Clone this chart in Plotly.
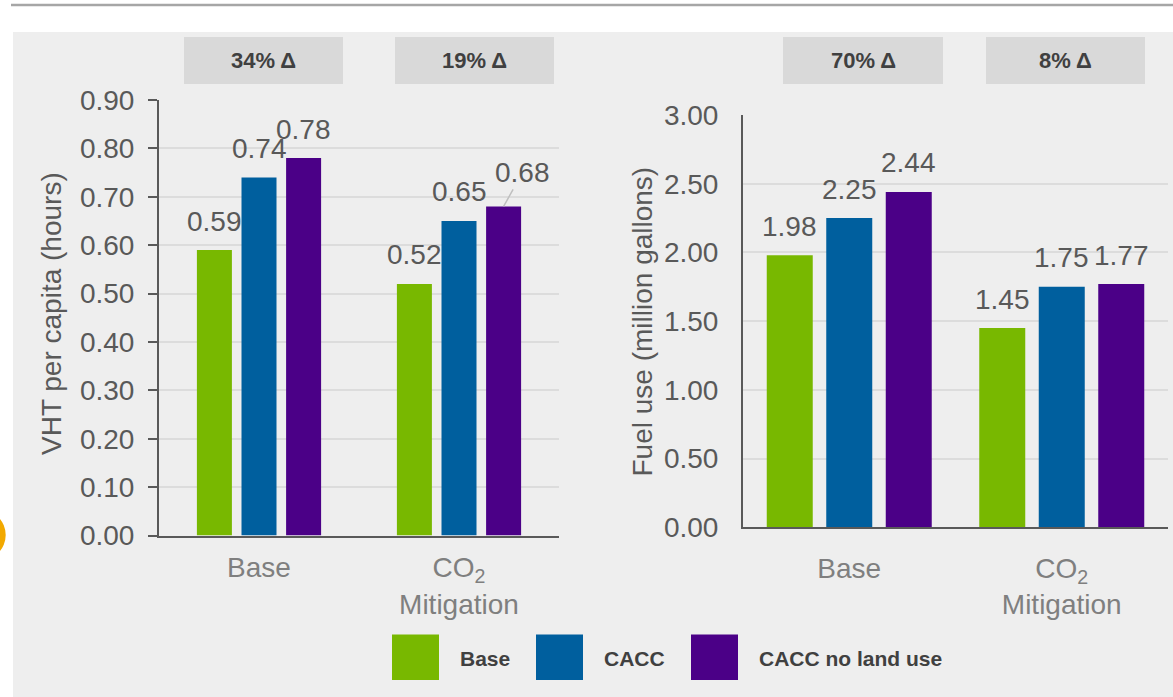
import plotly.graph_objects as go

# ---- data -------------------------------------------------------------
categories = ["Base", "CO<sub>2</sub><br>Mitigation"]
series_names = ["Base", "CACC", "CACC no land use"]

vht_base = [0.59, 0.52]
vht_cacc = [0.74, 0.65]
vht_cacc_no_land = [0.78, 0.68]

fuel_base = [1.98, 1.45]
fuel_cacc = [2.25, 1.75]
fuel_cacc_no_land = [2.44, 1.77]

vht_delta = ["34% Δ", "19% Δ"]
fuel_delta = ["70% Δ", "8% Δ"]

vht_ticks = [0.0, 0.1, 0.2, 0.3, 0.4, 0.5, 0.6, 0.7, 0.8, 0.9]
fuel_ticks = [0.0, 0.5, 1.0, 1.5, 2.0, 2.5, 3.0]

# ---- style ------------------------------------------------------------
W, H = 1173, 697
colors = ["#78B800", "#005F9E", "#4B0087"]
FONT = "Liberation Sans, Arial, sans-serif"
TXT = "#595959"
CAT_TXT = "#7F7F7F"
BOLD_TXT = "#404040"


def px(x):
    return x / W


def py(y):
    return 1 - y / H


fig = go.Figure()

vht_series = [vht_base, vht_cacc, vht_cacc_no_land]
fuel_series = [fuel_base, fuel_cacc, fuel_cacc_no_land]
cat_pos = list(range(len(categories)))

# bar geometry (position-axis units) for each panel
panels = [
    dict(series=vht_series, xa="x", ya="y", width=0.175, pitch=0.223),
    dict(series=fuel_series, xa="x2", ya="y2", width=0.2165, pitch=0.28),
]

annotations = []
for p in panels:
    for i, (name, vals) in enumerate(zip(series_names, p["series"])):
        center = (i - 1) * p["pitch"]
        fig.add_trace(go.Bar(
            x=cat_pos, y=vals, name=name,
            width=p["width"], offset=center - p["width"] / 2,
            marker=dict(color=colors[i], line=dict(width=0)),
            xaxis=p["xa"], yaxis=p["ya"], showlegend=False,
            hoverinfo="skip",
        ))
        for c, v in zip(cat_pos, vals):
            lab = dict(
                x=c + center, y=v, xref=p["xa"], yref=p["ya"],
                text=f"{v:.2f}", font=dict(family=FONT, size=28, color=TXT),
                showarrow=False, yanchor="middle", yshift=29,
            )
            if p["xa"] == "x" and name == "CACC no land use" and c == 1:
                # label pushed aside with a leader line
                lab.update(showarrow=True, arrowhead=0, arrowwidth=1.5,
                           arrowcolor="#BFBFBF", ax=19, ay=-34, yshift=0,
                           standoff=0)
            annotations.append(lab)

axis_common = dict(
    showline=True, linecolor=TXT, linewidth=2, zeroline=False,
    automargin=False, fixedrange=True,
)

fig.update_layout(
    xaxis=dict(
        domain=[px(159), px(559)], range=[-0.5, 1.5], anchor="y",
        tickvals=cat_pos, ticktext=categories, ticks="", showgrid=False,
        ticklabelstandoff=6,
        tickfont=dict(family=FONT, size=28, color=CAT_TXT), **axis_common,
    ),
    yaxis=dict(
        domain=[py(535.5), py(100)], range=[0, 0.9], anchor="x",
        tickvals=vht_ticks, tickformat=".2f", ticks="outside", ticklen=9,
        tickwidth=2, tickcolor=TXT, showgrid=True, gridcolor="#DCDCDC",
        gridwidth=1.5, ticklabelstandoff=8,
        tickfont=dict(family=FONT, size=28, color=TXT), **axis_common,
    ),
    xaxis2=dict(
        domain=[px(743), px(1168)], range=[-0.5, 1.5], anchor="y2",
        tickvals=cat_pos, ticktext=categories, ticks="", showgrid=False,
        ticklabelstandoff=15,
        tickfont=dict(family=FONT, size=28, color=CAT_TXT), **axis_common,
    ),
    yaxis2=dict(
        domain=[py(527.3), py(115)], range=[0, 3.0], anchor="x2",
        tickvals=fuel_ticks, tickformat=".2f", ticks="", showgrid=True,
        gridcolor="#DCDCDC", gridwidth=1.5, ticklabelstandoff=17,
        tickfont=dict(family=FONT, size=28, color=TXT), **axis_common,
    ),
)

# axis titles
annotations.append(dict(
    text="VHT per capita (hours)", x=px(52), y=py(314), xref="paper", yref="paper",
    textangle=-90, showarrow=False, xanchor="center", yanchor="middle",
    font=dict(family=FONT, size=28, color=TXT),
))
annotations.append(dict(
    text="Fuel use (million gallons)", x=px(642), y=py(321.5), xref="paper",
    yref="paper", textangle=-90, showarrow=False, xanchor="center",
    yanchor="middle", font=dict(family=FONT, size=28, color=TXT),
))

shapes = [
    # background panel and top rule
    dict(type="rect", xref="paper", yref="paper", x0=px(13), x1=1.0, y0=0,
         y1=py(32), fillcolor="#EEEEEE", line=dict(width=0), layer="below"),
    dict(type="line", xref="paper", yref="paper", x0=px(11), x1=1.0,
         y0=py(5), y1=py(5), line=dict(color="#A6A6A6", width=2.5)),
    # page marker at the left edge
    dict(type="circle", xref="paper", yref="paper", x0=px(-45), x1=px(5.7),
         y0=py(560.3), y1=py(509.7), fillcolor="#F2A900", line=dict(width=0)),
]

# change boxes above each scenario
delta_boxes = [
    (vht_delta[0], 184, 343), (vht_delta[1], 395, 554),
    (fuel_delta[0], 783, 943), (fuel_delta[1], 986, 1145),
]
for text, x0, x1 in delta_boxes:
    shapes.append(dict(type="rect", xref="paper", yref="paper", x0=px(x0),
                       x1=px(x1), y0=py(84), y1=py(37), fillcolor="#D9D9D9",
                       line=dict(width=0), layer="below"))
    annotations.append(dict(
        text=f"<b>{text}</b>", x=px((x0 + x1) / 2), y=py(60.5), xref="paper",
        yref="paper", showarrow=False, xanchor="center", yanchor="middle",
        font=dict(family=FONT, size=22, color=BOLD_TXT),
    ))

# legend
legend_x = [392, 536, 691]
for name, col, lx in zip(series_names, colors, legend_x):
    shapes.append(dict(type="rect", xref="paper", yref="paper", x0=px(lx),
                       x1=px(lx + 47), y0=py(680), y1=py(634.5), fillcolor=col,
                       line=dict(width=0)))
    annotations.append(dict(
        text=f"<b>{name}</b>", x=px(lx + 66), y=py(658), xref="paper",
        yref="paper", showarrow=False, xanchor="left", yanchor="middle",
        font=dict(family=FONT, size=21, color=BOLD_TXT),
    ))

fig.update_layout(
    template="none",
    width=W, height=H,
    margin=dict(l=0, r=0, t=0, b=0, pad=0),
    paper_bgcolor="#FFFFFF",
    plot_bgcolor="rgba(0,0,0,0)",
    barmode="overlay",
    showlegend=False,
    shapes=shapes,
    annotations=annotations,
    font=dict(family=FONT, color=TXT),
)

fig.write_html("out.html", config={"displayModeBar": False})
